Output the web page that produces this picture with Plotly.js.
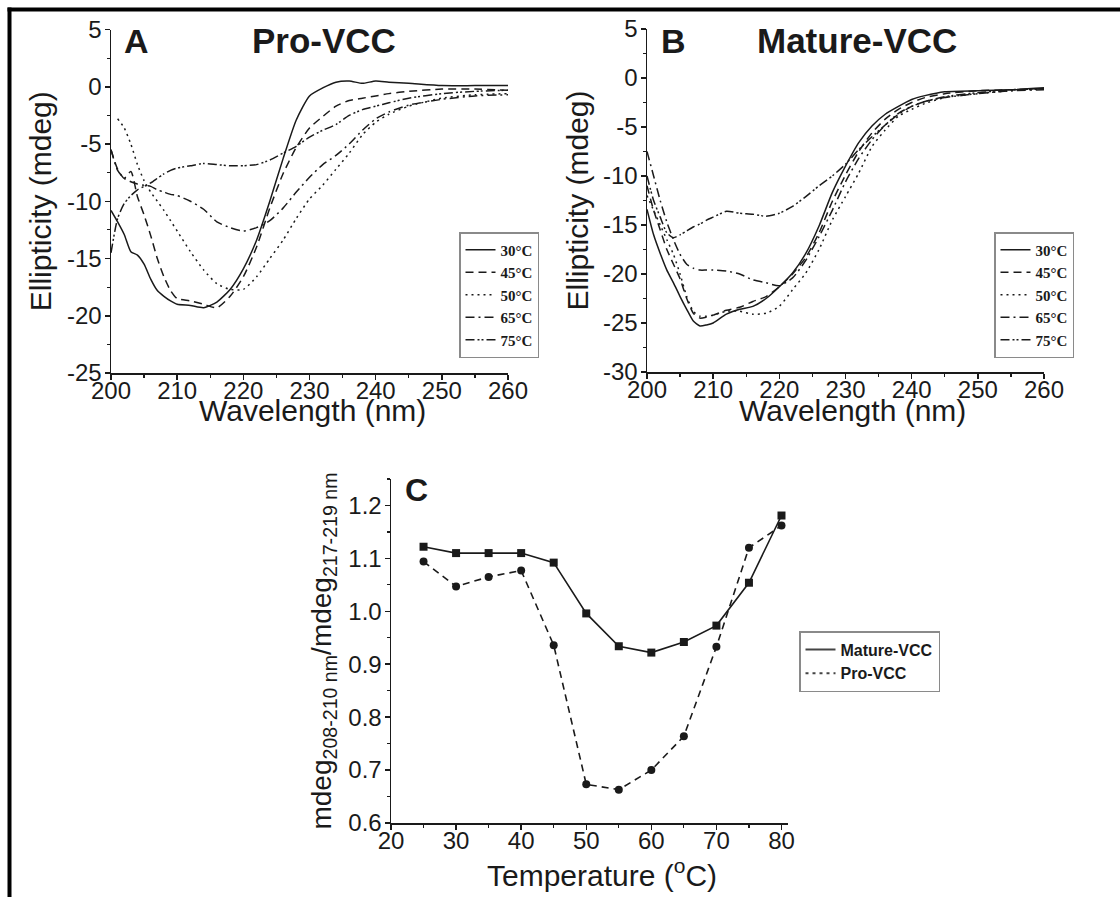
<!DOCTYPE html>
<html>
<head>
<meta charset="utf-8">
<script src="https://cdn.plot.ly/plotly-3.0.1.min.js"></script>
<style>html,body{margin:0;padding:0;background:#fff;}#chart{width:1120px;height:897px;}</style>
</head>
<body>
<div id="chart"></div>
<script>
// ---------- data ----------
const wavelength = [200,201,202,203,204,205,206,207,208,209,210,212,214,216,218,220,222,224,226,228,230,232,234,236,238,240,242,245,250,255,260];
const tempLabels = ['30°C','45°C','50°C','65°C','75°C'];

const proVCC_30 = [-10.8,-11.8,-12.9,-14.4,-14.7,-15.5,-16.8,-17.8,-18.3,-18.7,-19.0,-19.1,-19.3,-18.8,-17.7,-15.9,-13.4,-10.0,-6.3,-2.9,-0.8,-0.1,0.4,0.5,0.3,0.5,0.4,0.3,0.1,0.1,0.1];
const proVCC_45 = [-5.5,-7.2,-8.0,-7.4,-9.6,-11.2,-13.0,-15.0,-16.6,-17.8,-18.5,-18.7,-19.0,-19.3,-18.3,-16.6,-14.0,-10.6,-7.6,-5.3,-3.6,-2.6,-1.7,-1.2,-1.0,-0.8,-0.6,-0.4,-0.2,-0.2,-0.3];
const proVCC_50 = [null,-2.8,-3.6,-5.0,-6.8,-8.2,-9.2,-10.0,-10.8,-11.7,-12.6,-14.4,-16.0,-17.2,-17.7,-17.7,-16.6,-15.0,-13.4,-11.5,-9.8,-8.6,-7.2,-5.8,-4.2,-3.1,-2.4,-1.7,-1.0,-0.7,-0.6];
const proVCC_65 = [-5.5,-7.3,-8.0,-8.3,-8.5,-8.6,-8.7,-9.0,-9.2,-9.4,-9.5,-10.0,-10.7,-11.8,-12.3,-12.6,-12.3,-11.7,-10.6,-9.2,-7.9,-6.8,-6.0,-5.0,-3.8,-2.8,-2.2,-1.6,-1.1,-0.8,-0.7];
const proVCC_75 = [-14.5,-11.5,-10.2,-9.5,-9.0,-8.7,-8.4,-8.0,-7.6,-7.3,-7.1,-6.9,-6.7,-6.8,-6.9,-6.9,-6.8,-6.4,-5.8,-5.2,-4.4,-3.8,-3.3,-2.5,-2.0,-1.7,-1.4,-1.0,-0.6,-0.4,-0.3];

const matVCC_30 = [-13.4,-16.0,-17.9,-19.6,-20.9,-22.3,-23.6,-24.8,-25.3,-25.2,-25.0,-24.1,-23.6,-23.3,-22.5,-21.3,-19.9,-17.9,-15.1,-11.7,-9.0,-6.6,-4.9,-3.7,-2.9,-2.2,-1.8,-1.4,-1.3,-1.2,-1.0];
const matVCC_45 = [-11.0,-13.5,-15.5,-17.5,-19.0,-20.5,-22.5,-24.0,-24.5,-24.4,-24.2,-23.7,-23.4,-22.8,-22.3,-21.3,-20.0,-18.3,-15.8,-12.6,-9.9,-7.5,-5.6,-4.2,-3.2,-2.5,-2.0,-1.6,-1.3,-1.2,-1.1];
const matVCC_50 = [-12.0,-13.5,-15.0,-16.5,-18.0,-20.0,-22.3,-23.8,-24.3,-24.3,-24.2,-23.8,-23.8,-24.1,-24.0,-23.3,-21.6,-19.9,-17.5,-14.5,-12.1,-9.7,-7.0,-5.3,-3.9,-3.2,-2.6,-2.0,-1.6,-1.3,-1.1];
const matVCC_65 = [-7.5,-10.0,-12.5,-14.7,-16.5,-18.0,-19.0,-19.4,-19.6,-19.6,-19.6,-19.7,-20.0,-20.6,-20.9,-21.2,-20.4,-18.6,-16.2,-13.5,-10.6,-8.2,-6.3,-4.8,-3.7,-2.9,-2.4,-2.0,-1.6,-1.3,-1.2];
const matVCC_75 = [-10.0,-12.5,-14.2,-15.8,-16.3,-16.0,-15.6,-15.2,-14.9,-14.5,-14.2,-13.6,-13.8,-13.9,-14.1,-13.8,-13.1,-12.1,-11.0,-10.0,-8.8,-7.3,-6.0,-4.8,-3.6,-2.9,-2.4,-1.9,-1.5,-1.2,-1.1];

const temperature = [25,30,35,40,45,50,55,60,65,70,75,80];
const ratioMature = [1.122,1.110,1.110,1.110,1.092,0.996,0.934,0.922,0.942,0.973,1.054,1.181];
const ratioPro    = [1.094,1.047,1.065,1.077,0.936,0.673,0.663,0.700,0.764,0.933,1.120,1.162];

const yTicksA = [-25,-20,-15,-10,-5,0,5];
const yTextA  = ['-25','-20','-15','-10','-5','0','5'];
const yTicksB = [-30,-25,-20,-15,-10,-5,0,5];
const yTextB  = ['-30','-25','-20','-15','-10','-5','0','5'];
const yTicksC = [0.6,0.7,0.8,0.9,1.0,1.1,1.2];
const yTextC  = ['0.6','0.7','0.8','0.9','1.0','1.1','1.2'];

// ---------- styling ----------
const W = 1120, H = 897;
const px = v => v / W;
const py = v => 1 - v / H;
const INK = '#1a1a1a';
const SANS = 'Liberation Sans, Arial, sans-serif';
const SERIF = 'Liberation Serif, Times New Roman, serif';
const dashes = ['solid', '8px,5px', '2px,4px', '9px,4px,2px,4px', '9px,3px,2px,2px,2px,3px'];

const proSeries = [proVCC_30, proVCC_45, proVCC_50, proVCC_65, proVCC_75];
const matSeries = [matVCC_30, matVCC_45, matVCC_50, matVCC_65, matVCC_75];

const traces = [];
proSeries.forEach((ys, i) => traces.push({
  x: wavelength, y: ys, type: 'scatter', mode: 'lines', name: tempLabels[i],
  xaxis: 'x', yaxis: 'y', legend: 'legend', connectgaps: false,
  line: {color: INK, width: 1.5, dash: dashes[i], shape: 'spline', smoothing: 0.6}
}));
matSeries.forEach((ys, i) => traces.push({
  x: wavelength, y: ys, type: 'scatter', mode: 'lines', name: tempLabels[i],
  xaxis: 'x2', yaxis: 'y2', legend: 'legend2',
  line: {color: INK, width: 1.5, dash: dashes[i], shape: 'spline', smoothing: 0.6}
}));
traces.push({
  x: temperature, y: ratioMature, type: 'scatter', mode: 'lines+markers', name: 'Mature-VCC',
  xaxis: 'x3', yaxis: 'y3', showlegend: false,
  line: {color: INK, width: 1.6}, marker: {symbol: 'square', size: 8, color: INK}
});
traces.push({
  x: temperature, y: ratioPro, type: 'scatter', mode: 'lines+markers', name: 'Pro-VCC',
  xaxis: 'x3', yaxis: 'y3', showlegend: false,
  line: {color: INK, width: 1.6, dash: '7px,5px'}, marker: {symbol: 'circle', size: 8, color: INK}
});
// legend keys for panel C (as drawn in the original legend)
traces.push({x: [null], y: [null], type: 'scatter', mode: 'lines', name: 'Mature-VCC',
  xaxis: 'x3', yaxis: 'y3', legend: 'legend3', line: {color: '#444', width: 2}});
traces.push({x: [null], y: [null], type: 'scatter', mode: 'lines', name: 'Pro-VCC',
  xaxis: 'x3', yaxis: 'y3', legend: 'legend3', line: {color: '#444', width: 2, dash: '3px,4px'}});

function xAxis(domain, range, dtick, minor, anchor) {
  return {
    domain: domain, range: range, anchor: anchor, dtick: dtick, tick0: 0,
    showline: true, linecolor: INK, linewidth: 1.5, showgrid: false, zeroline: false,
    ticks: 'outside', ticklen: 5, tickwidth: 1.5, tickcolor: INK,
    minor: {ticks: 'outside', ticklen: 3, tickwidth: 1.2, tickcolor: INK, dtick: minor, tick0: 0, showgrid: false},
    tickfont: {family: SANS, size: 24, color: INK}, ticklabelstandoff: -9,
    fixedrange: true
  };
}
function yAxis(domain, range, vals, text, minor, anchor, title, standoff, size) {
  return {
    domain: domain, range: range, anchor: anchor, tickmode: 'array', tickvals: vals, ticktext: text,
    showline: true, linecolor: INK, linewidth: 1.5, showgrid: false, zeroline: false,
    ticks: 'outside', ticklen: 5, tickwidth: 1.5, tickcolor: INK,
    minor: {ticks: 'outside', ticklen: 3, tickwidth: 1.2, tickcolor: INK, dtick: minor, tick0: 0, showgrid: false},
    tickfont: {family: SANS, size: 24, color: INK}, ticklabelstandoff: -2,
    title: {text: title, font: {family: SANS, size: size, color: INK}, standoff: standoff},
    fixedrange: true
  };
}

const legendBase = {
  xanchor: 'left', yanchor: 'top', bgcolor: 'rgba(255,255,255,0)',
  bordercolor: '#8a8a8a', borderwidth: 1.5, itemwidth: 30, tracegroupgap: 0,
  itemclick: false, itemdoubleclick: false
};

function label(text, x, y, size, opts) {
  return Object.assign({text: text, x: px(x), y: py(y), xref: 'paper', yref: 'paper',
    xanchor: 'center', yanchor: 'middle', showarrow: false,
    font: {family: SANS, size: size, color: INK}}, opts || {});
}

const layout = {
  width: W, height: H,
  margin: {l: 0, r: 0, t: 0, b: 0},
  paper_bgcolor: '#fff', plot_bgcolor: 'rgba(0,0,0,0)',
  font: {family: SANS, color: INK},
  xaxis:  xAxis([px(111), px(508)], [200, 260], 10, 5, 'y'),
  yaxis:  yAxis([py(373), py(29.5)], [-25, 5], yTicksA, yTextA, 2.5, 'x', 'Ellipticity (mdeg)', 6, 30),
  xaxis2: xAxis([px(647), px(1044)], [200, 260], 10, 5, 'y2'),
  yaxis2: yAxis([py(372), py(29)], [-30, 5], yTicksB, yTextB, 2.5, 'x2', 'Ellipticity (mdeg)', 5, 30),
  xaxis3: xAxis([px(391), px(788)], [20, 81], 10, 5, 'y3'),
  yaxis3: yAxis([py(823), py(479)], [0.6, 1.25], yTicksC, yTextC, 0.05, 'x3',
                'mdeg<sub>208-210 nm</sub>/mdeg<sub>217-219 nm</sub>', 8, 28),
  legend:  Object.assign({}, legendBase, {x: px(459), y: py(232),
            font: {family: SERIF, size: 15, color: INK, weight: 'bold'}}),
  legend2: Object.assign({}, legendBase, {x: px(994), y: py(232),
            font: {family: SERIF, size: 15, color: INK, weight: 'bold'}}),
  legend3: Object.assign({}, legendBase, {x: px(799), y: py(631),
            font: {family: SANS, size: 16, color: INK, weight: 'bold'}}),
  annotations: [
    label('A', 122, 41, 34, {xanchor: 'left', font: {family: SANS, size: 34, color: INK, weight: 'bold'}}),
    label('Pro-VCC', 324, 40, 35, {font: {family: SANS, size: 35, color: INK, weight: 'bold'}}),
    label('B', 659, 41, 34, {xanchor: 'left', font: {family: SANS, size: 34, color: INK, weight: 'bold'}}),
    label('Mature-VCC', 857, 40, 35, {font: {family: SANS, size: 35, color: INK, weight: 'bold'}}),
    label('C', 403, 490, 32, {xanchor: 'left', font: {family: SANS, size: 32, color: INK, weight: 'bold'}}),
    label('Wavelength (nm)', 312, 411, 30),
    label('Wavelength (nm)', 852, 411, 30),
    label('Temperature (<sup>o</sup>C)', 602, 873, 30)
  ],
  shapes: [
    {type: 'line', xref: 'paper', yref: 'paper', x0: px(9.5), x1: px(9.5), y0: 0, y1: py(7.5), line: {color: '#000', width: 4}},
    {type: 'line', xref: 'paper', yref: 'paper', x0: px(7.5), x1: 1, y0: py(9.5), y1: py(9.5), line: {color: '#000', width: 4}}
  ]
};

Plotly.newPlot('chart', traces, layout, {displayModeBar: false, staticPlot: true});
</script>
</body>
</html>
